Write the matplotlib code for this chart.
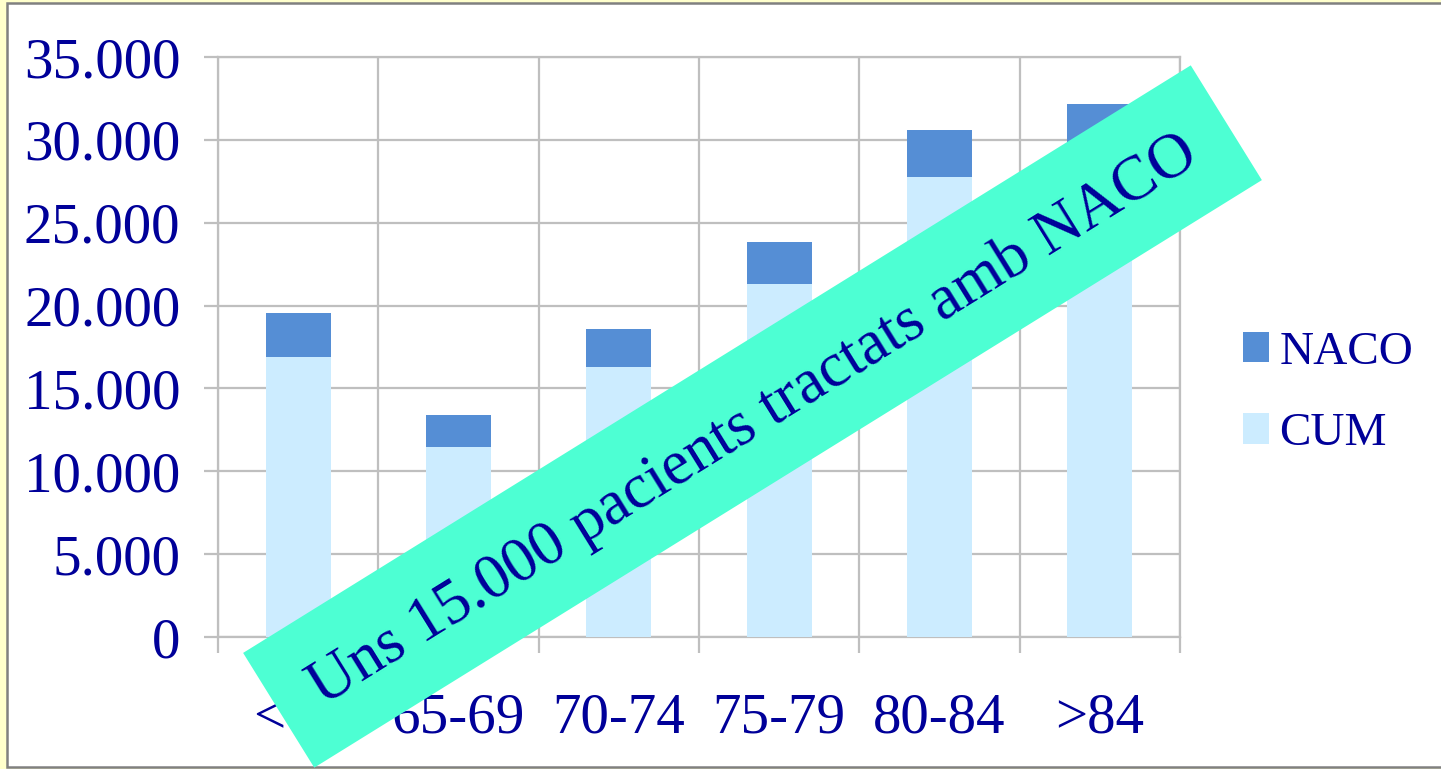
import matplotlib.pyplot as plt
from matplotlib.patches import Rectangle
from matplotlib.transforms import IdentityTransform
from matplotlib.ticker import FuncFormatter

# dades llegides del grafic
groups = ["<65", "65-69", "70-74", "75-79", "80-84", ">84"]
cum = [16900, 11450, 16300, 21300, 27750, 29300]
naco = [2650, 1950, 2300, 2550, 2850, 2850]
y_ticks = [0, 5000, 10000, 15000, 20000, 25000, 30000, 35000]
banner = "Uns 15.000 pacients tractats amb NACO"

text_col = "#000099"
grid_col = "#BFBFBF"

plt.rcParams["font.family"] = ["Liberation Serif", "DejaVu Serif"]

W, H = 1441, 769
fig = plt.figure(figsize=(W / 100, H / 100), dpi=100)
fig.patch.set_facecolor("#FFFFCC")

# marc blanc de la diapositiva
frame = Rectangle((7 / W, 2 / H), 1.1, 764 / H, transform=fig.transFigure,
                  facecolor="white", edgecolor="#808080", linewidth=1.8, zorder=-10)
fig.patches.append(frame)

ax = fig.add_axes([218 / W, 1 - 637 / H, (1180 - 218) / W, (637 - 57) / H])
ax.set_facecolor("none")

x = range(len(groups))
b_cum = ax.bar(x, cum, width=0.405, color="#CCECFF", label="CUM", zorder=3)
b_naco = ax.bar(x, naco, width=0.405, bottom=cum, color="#558ED5", label="NACO", zorder=3)

ax.set_xlim(-0.5, len(groups) - 0.5)
ax.set_ylim(0, 35000)
ax.set_yticks(y_ticks)
ax.yaxis.set_major_formatter(FuncFormatter(lambda v, p: f"{int(v):,}".replace(",", ".")))
ax.set_xticks(list(x))
ax.set_xticklabels(groups)
ax.set_xticks([i - 0.5 for i in range(len(groups) + 1)], minor=True)

ax.grid(axis="y", color=grid_col, linewidth=1.6, zorder=0)
ax.grid(axis="x", which="minor", color=grid_col, linewidth=1.6, zorder=0)
for s in ax.spines.values():
    s.set_color(grid_col)
    s.set_linewidth(1.6)

ax.tick_params(axis="y", length=10, width=1.6, color=grid_col, pad=17,
               labelsize=41, labelcolor=text_col)
ax.tick_params(axis="x", which="major", length=0, pad=40, labelsize=41, labelcolor=text_col)
ax.tick_params(axis="x", which="minor", length=11.5, width=1.6, color=grid_col)

leg = ax.legend(handles=[b_naco, b_cum], loc="center left",
                bbox_to_anchor=(1243 / W, 1 - 393 / H), bbox_transform=fig.transFigure,
                frameon=False, fontsize=34, handlelength=0.55, handleheight=0.62,
                handletextpad=0.22, labelspacing=0.82, borderpad=0, borderaxespad=0)
for t in leg.get_texts():
    t.set_color(text_col)

# banda diagonal (en pixels de la imatge)
cx, cy = 752.5, H - 416.5
bw, bh = 1115, 135
band = Rectangle((cx - bw / 2, cy - bh / 2), bw, bh, angle=31.8, rotation_point="center",
                 transform=IdentityTransform(), facecolor="#4DFFD3", edgecolor="none", zorder=9)
fig.add_artist(band)
fig.text(cx / W + 0.001, cy / H - 0.006, banner, rotation=31.8, rotation_mode="anchor",
         ha="center", va="center", fontsize=45.5, color=text_col, zorder=10)

fig.savefig("out.png", dpi=100)
